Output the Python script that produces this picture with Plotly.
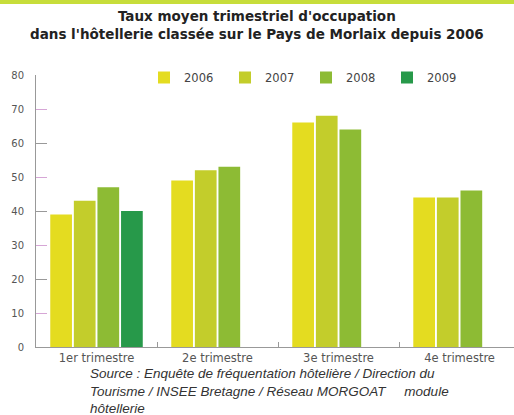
import plotly.graph_objects as go

categories = ["1er trimestre", "2e trimestre", "3e trimestre", "4e trimestre"]
years = ["2006", "2007", "2008", "2009"]
v2006 = [39, 49, 66, 44]
v2007 = [43, 52, 68, 44]
v2008 = [47, 53, 64, 46]
v2009 = [40, None, None, None]
series = [v2006, v2007, v2008, v2009]
colors = ["#e4dc20", "#c3cd2b", "#8dbb34", "#27994a"]

W, H = 514, 415
ML, MR, MT, MB = 36, 0, 75, 68
plot_h = H - MT - MB
plot_w = W - ML - MR

fig = go.Figure()
for name, vals, col in zip(years, series, colors):
    fig.add_trace(go.Bar(x=categories, y=vals, name=name, marker_color=col,
                         marker_line_width=0))

# invisible trace to host the overlay axis
fig.add_trace(go.Scatter(x=[categories[0]], y=[0], yaxis="y2", mode="markers",
                         marker_opacity=0, showlegend=False, hoverinfo="skip"))

def py(px):
    return (H - MB - px) / plot_h

def pxx(px):
    return (px - ML) / plot_w

fig.update_layout(
    width=W, height=H,
    margin=dict(l=ML, r=MR, t=MT, b=MB),
    paper_bgcolor="white", plot_bgcolor="white",
    barmode="group", bargap=0.22, bargroupgap=0.08,
    font=dict(family="DejaVu Sans", size=10, color="#444"),
    legend=dict(orientation="h", x=pxx(144), xanchor="left", y=py(63), yanchor="top",
                font=dict(size=11.5, color="#444"), traceorder="normal",
                itemwidth=30, entrywidth=36, tracegroupgap=0, bgcolor="rgba(0,0,0,0)"),
    xaxis=dict(range=[-0.5, 3.45], showline=True, linecolor="#999", linewidth=1,
               ticks="inside", tickson="boundaries", ticklen=5, tickcolor="#999",
               showgrid=False, tickfont=dict(size=11.5, color="#555"), zeroline=False),
    yaxis=dict(range=[0, 80], tickvals=[0, 10, 20, 30, 40, 50, 60, 70, 80],
               showline=True, linecolor="#999", linewidth=1,
               ticks="inside", ticklen=11, tickcolor="#d6a6d6", showgrid=False,
               zeroline=False, tickfont=dict(size=10, color="#555"),
               ticklabelstandoff=9),
    yaxis2=dict(range=[0, 80], overlaying="y", side="left", anchor="x",
                tickvals=[20, 40, 60, 80], ticks="inside", ticklen=11,
                tickcolor="#999", showticklabels=False, showgrid=False,
                showline=False, zeroline=False),
    shapes=[dict(type="rect", xref="paper", yref="paper",
                 x0=pxx(0), x1=pxx(W), y0=py(4), y1=py(-2),
                 fillcolor="#c7dd3a", line_width=0, layer="above")],
    annotations=[
        dict(
            text="<b>Taux moyen trimestriel d'occupation<br>dans l'hôtellerie classée sur le Pays de Morlaix depuis 2006</b>",
            xref="paper", yref="paper", x=pxx(W / 2), y=py(25), xanchor="center",
            yanchor="middle", align="center", showarrow=False,
            font=dict(family="DejaVu Sans", size=13.5, color="#222"),
        ),
        dict(
            text="Source : Enquête de fréquentation hôtelière / Direction du<br>"
                 "Tourisme / INSEE Bretagne / Réseau MORGOAT\u00a0\u00a0\u00a0\u00a0\u00a0module<br>"
                 "hôtellerie",
            xref="paper", yref="paper", x=pxx(88), y=py(364), xanchor="left", yanchor="top",
            align="left", showarrow=False,
            font=dict(family="Liberation Sans", size=13.5, color="#333", style="italic"),
        ),
    ],
)

fig.write_html("out.html", config={"displayModeBar": False},
               post_script="document.body.style.margin='0';")
